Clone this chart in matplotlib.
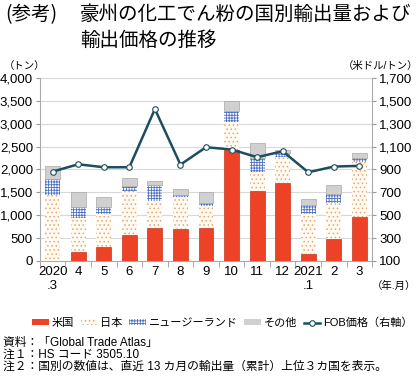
import matplotlib
matplotlib.use("Agg")
import matplotlib.pyplot as plt
import numpy as np

plt.rcParams['font.family'] = ['Liberation Sans', 'Noto Sans CJK JP', 'DejaVu Sans']
plt.rcParams['hatch.linewidth'] = 0.6

months = ["2020\n.3", "4", "5", "6", "7", "8", "9", "10", "11", "12", "2021\n.1", "2", "3"]
usa = [0, 197, 307, 577, 724, 687, 724, 2427, 1528, 1696, 161, 475, 950]
japan = [1440, 746, 716, 958, 592, 702, 475, 607, 409, 585, 862, 797, 1206]
nz = [344, 241, 161, 102, 343, 58, 58, 234, 322, 87, 198, 183, 103]
other = [285, 315, 212, 176, 95, 125, 242, 219, 314, 59, 131, 204, 102]
fob = [881, 945, 919, 919, 1428, 942, 1094, 1074, 1007, 1059, 875, 925, 931]

fig = plt.figure(figsize=(4.2, 3.82), dpi=100)
ax = fig.add_axes([0.095, 0.317, 0.791, 0.479])
x = np.arange(len(months))
w = 0.58

usa_a = np.array(usa); jp_a = np.array(japan); nz_a = np.array(nz); ot_a = np.array(other)
b1 = ax.bar(x, usa_a, w, color='#EE4226', edgecolor='#C8341E', linewidth=0.5, label='米国', zorder=3)
b2 = ax.bar(x, jp_a, w, bottom=usa_a, facecolor='#FFFBF3', edgecolor='#E2A872', hatch='....',
            linewidth=0, label='日本', zorder=3)
b3 = ax.bar(x, nz_a, w, bottom=usa_a + jp_a, facecolor='white', edgecolor='#4D6FC4', hatch='++++++',
            linewidth=0, label='ニュージーランド', zorder=3)
b4 = ax.bar(x, ot_a, w, bottom=usa_a + jp_a + nz_a, facecolor='#D0D0D0', edgecolor='#A8A8A8',
            linewidth=0.5, label='その他', zorder=3)

ax.set_ylim(0, 4000)
ax.set_yticks(np.arange(0, 4001, 500))
ax.set_yticklabels([f"{v:,}" for v in range(0, 4001, 500)])
ax.set_xlim(-0.5, len(months) - 0.5)
ax.set_xticks(x)
ax.set_xticklabels(months, fontsize=9.5)
ax.set_xticks(np.arange(-0.5, len(months), 1), minor=True)
ax.tick_params(axis='x', which='major', length=0, pad=4)
ax.tick_params(axis='x', which='minor', length=4, color='#999999')
ax.tick_params(axis='y', length=3, color='#999999', labelsize=9.5, pad=2)
ax.grid(axis='y', color='#D8D8D8', linewidth=0.8, zorder=0)
for s in ['top', 'right']:
    ax.spines[s].set_visible(False)
ax.spines['left'].set_color('#AAAAAA')
ax.spines['bottom'].set_color('#AAAAAA')

ax2 = ax.twinx()
ln, = ax2.plot(x, fob, color='#1C4E5E', linewidth=1.8, marker='o', markersize=4,
               markerfacecolor='white', markeredgecolor='#1C4E5E', markeredgewidth=0.8,
               label='FOB価格（右軸）', zorder=5)
ax2.set_ylim(100, 1700)
ax2.set_yticks(np.arange(100, 1701, 200))
ax2.set_yticklabels([f"{v:,}" for v in range(100, 1701, 200)])
ax2.tick_params(axis='y', length=3, color='#999999', labelsize=9.5, pad=2)
for s in ['top', 'left', 'bottom']:
    ax2.spines[s].set_visible(False)
ax2.spines['right'].set_color('#AAAAAA')

# Titles and units
fig.text(0.012, 0.962, "(参考)", fontsize=14, va='center', ha='left', family=['Noto Sans CJK JP'])
fig.text(0.19, 0.962, "豪州の化工でん粉の国別輸出量および", fontsize=14, va='center', ha='left',
         family=['Noto Sans CJK JP'])
fig.text(0.19, 0.893, "輸出価格の推移", fontsize=14, va='center', ha='left', family=['Noto Sans CJK JP'])
fig.text(0.008, 0.827, "（トン）", fontsize=7.5, va='center', ha='left')
fig.text(0.995, 0.827, "（米ドル/トン）", fontsize=7.5, va='center', ha='right')
fig.text(0.99, 0.252, "（年.月）", fontsize=7.5, va='center', ha='right')

leg = fig.legend(handles=[b1, b2, b3, b4, ln], loc='center', bbox_to_anchor=(0.53, 0.155), ncol=5,
                 frameon=False, fontsize=8, handlelength=1.5, handleheight=0.5, handletextpad=0.25,
                 columnspacing=0.6, borderaxespad=0, borderpad=0)
for h in leg.legend_handles[:4]:
    h.set_linewidth(0)

notes = ["資料：「Global Trade Atlas」",
         "注１：HS コード 3505.10",
         "注２：国別の数値は、直近 13 カ月の輸出量（累計）上位３カ国を表示。"]
for i, t in enumerate(notes):
    fig.text(0.008, 0.103 - i * 0.032, t, fontsize=8.5, va='center', ha='left')

fig.savefig("out.png", dpi=100)
